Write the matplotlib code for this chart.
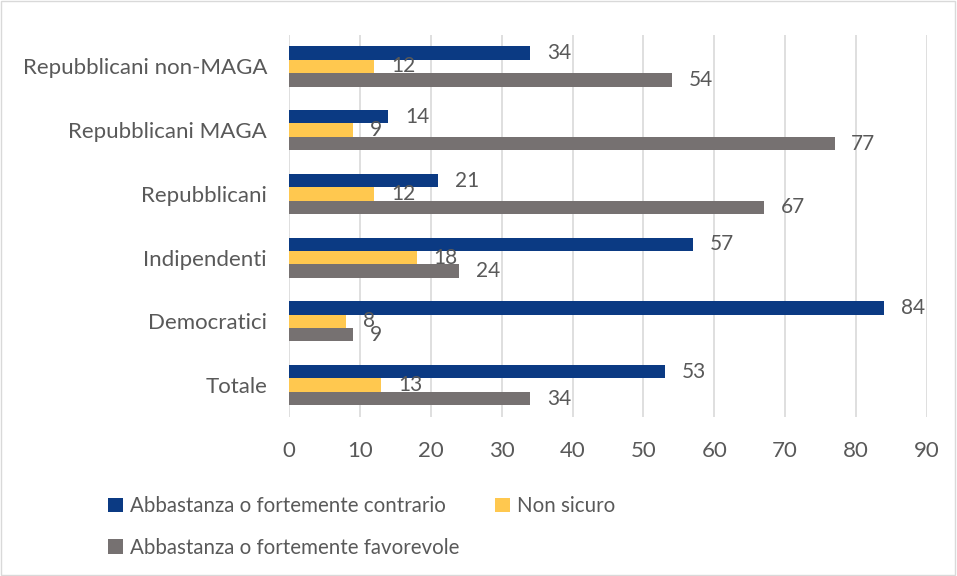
import numpy as np
import matplotlib
matplotlib.use("Agg")
import matplotlib.pyplot as plt
from matplotlib.patches import Rectangle

plt.rcParams["font.family"] = ["Lato", "DejaVu Sans"]

# data (bottom to top)
categories = ["Totale", "Democratici", "Indipendenti", "Repubblicani",
              "Repubblicani MAGA", "Repubblicani non-MAGA"]
contrario  = [53, 84, 57, 21, 14, 34]
non_sicuro = [13, 8, 18, 12, 9, 12]
favorevole = [34, 9, 24, 67, 77, 54]

series_labels = ["Abbastanza o fortemente contrario", "Non sicuro",
                 "Abbastanza o fortemente favorevole"]
colors = ["#0B3A83", "#FFC84F", "#767171"]
TEXT = "#595959"
FS = 16

fig = plt.figure(figsize=(9.57, 5.76), dpi=100)
ax = fig.add_axes([0.3023, 0.276, 0.666, 0.664])

y = np.arange(len(categories))
h = 0.21
handles = []
for k, (vals, col, lab) in enumerate(zip([contrario, non_sicuro, favorevole],
                                         colors, series_labels)):
    pos = y + (1 - k) * h
    bars = ax.barh(pos, vals, height=h, color=col, label=lab, zorder=3)
    handles.append(bars)
    for p, v in zip(pos, vals):
        ax.annotate(str(v), xy=(v, p), xytext=(12, 0), textcoords="offset points",
                    va="center", ha="left", fontsize=15, color=TEXT)

ax.set_xlim(0, 90)
ax.set_ylim(-0.5, len(categories) - 0.5)
ax.set_xticks(np.arange(0, 91, 10))
ax.set_yticks(y)
ax.set_yticklabels(categories)
ax.tick_params(length=0, labelsize=FS, colors=TEXT)
ax.tick_params(axis="x", pad=17)
ax.tick_params(axis="y", pad=16)
ax.grid(axis="x", color="#D9D9D9", lw=1.2, zorder=0)
for s in ax.spines.values():
    s.set_visible(False)

leg = fig.legend([handles[0], handles[2], handles[1]],
                 [series_labels[0], series_labels[2], series_labels[1]],
                 ncol=2, loc="upper left", bbox_to_anchor=(0.094, 0.171),
                 frameon=False, fontsize=14.8, labelcolor=TEXT,
                 handlelength=0.7, handleheight=0.7, handletextpad=0.35,
                 columnspacing=1.75, labelspacing=1.05)

fig.patches.append(Rectangle((0.001, 0.001), 0.997, 0.997, transform=fig.transFigure,
                             fill=False, edgecolor="#D9D9D9", lw=1))

fig.savefig("out.png", dpi=100)
